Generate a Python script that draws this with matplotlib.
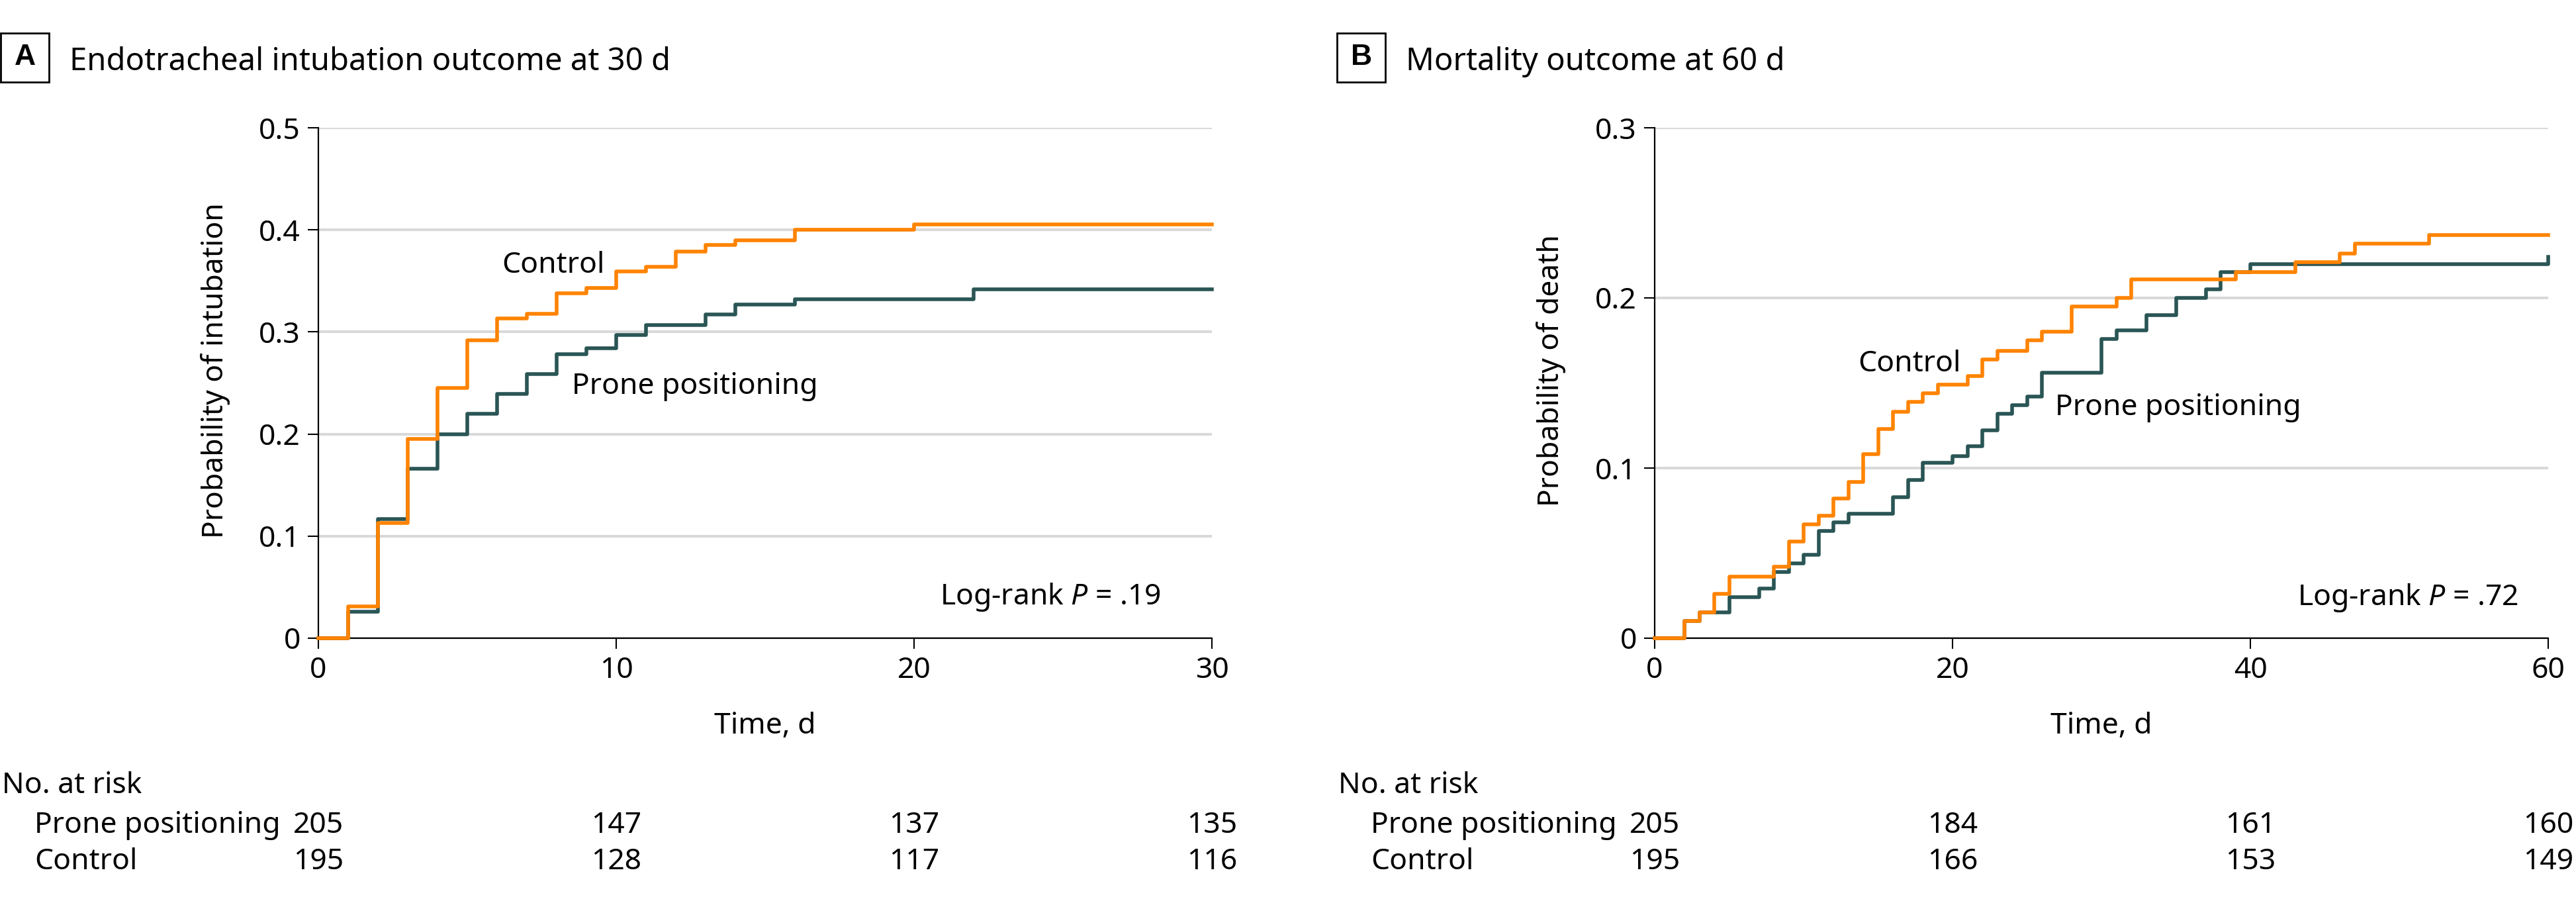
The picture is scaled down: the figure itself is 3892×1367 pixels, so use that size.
import matplotlib
matplotlib.use("Agg")
import matplotlib.pyplot as plt
from matplotlib.patches import Rectangle
from matplotlib import transforms

plt.rcParams['font.family'] = ['Noto Sans', 'DejaVu Sans']
plt.rcParams['mathtext.fontset'] = 'custom'
plt.rcParams['mathtext.rm'] = 'Noto Sans'
plt.rcParams['mathtext.it'] = 'Noto Sans:italic'

# Panel A - intubation at 30 d
a_prone_t = [0, 1, 2, 3, 4, 5, 6, 7, 8, 9, 10, 11, 13, 14, 16, 22, 30]
a_prone_p = [0, 0.026, 0.117, 0.166, 0.200, 0.220, 0.239, 0.259, 0.278, 0.284,
             0.297, 0.307, 0.317, 0.327, 0.332, 0.342, 0.342]
a_ctrl_t = [0, 1, 2, 3, 4, 5, 6, 7, 8, 9, 10, 11, 12, 13, 14, 16, 20, 30]
a_ctrl_p = [0, 0.031, 0.113, 0.195, 0.245, 0.292, 0.313, 0.318, 0.338, 0.343,
            0.359, 0.364, 0.379, 0.385, 0.390, 0.400, 0.405, 0.405]
a_xticks = [0, 10, 20, 30]
a_yticks = [0, 0.1, 0.2, 0.3, 0.4, 0.5]
a_ylabels = ['0', '0.1', '0.2', '0.3', '0.4', '0.5']
a_risk_prone = [205, 147, 137, 135]
a_risk_ctrl = [195, 128, 117, 116]

# Panel B - mortality at 60 d
b_prone_t = [0, 2, 3, 5, 7, 8, 9, 10, 11, 12, 13, 16, 17, 18, 20, 21, 22, 23,
             24, 25, 26, 30, 31, 33, 35, 37, 38, 40, 60]
b_prone_p = [0, 0.010, 0.015, 0.024, 0.029, 0.039, 0.044, 0.049, 0.063, 0.068,
             0.073, 0.083, 0.093, 0.103, 0.107, 0.113, 0.122, 0.132, 0.137,
             0.142, 0.156, 0.176, 0.181, 0.190, 0.200, 0.205, 0.215, 0.220, 0.224]
b_ctrl_t = [0, 2, 3, 4, 5, 8, 9, 10, 11, 12, 13, 14, 15, 16, 17, 18, 19, 21, 22,
            23, 25, 26, 28, 31, 32, 39, 43, 46, 47, 52, 60]
b_ctrl_p = [0, 0.010, 0.015, 0.026, 0.036, 0.042, 0.057, 0.067, 0.072, 0.082,
            0.092, 0.108, 0.123, 0.133, 0.139, 0.144, 0.149, 0.154, 0.164, 0.169,
            0.175, 0.180, 0.195, 0.200, 0.211, 0.215, 0.221, 0.226, 0.232, 0.237,
            0.237]
b_xticks = [0, 20, 40, 60]
b_yticks = [0, 0.1, 0.2, 0.3]
b_ylabels = ['0', '0.1', '0.2', '0.3']
b_risk_prone = [205, 184, 161, 160]
b_risk_ctrl = [195, 166, 153, 149]

ORANGE = '#FF8300'
TEAL = '#2A5555'
FS = 32

W, H = 3892, 1367
fig = plt.figure(figsize=(W / 100, H / 100), dpi=100)


def fx(px):
    return px / W


def fy(px):
    return (H - px) / H


def panel(left_px, letter, title, xticks, yticks, ylabels, ylabel,
          prone_t, prone_p, ctrl_t, ctrl_p, risk_prone, risk_ctrl,
          ctrl_lab, prone_lab, pval):
    ax = fig.add_axes([fx(left_px), fy(964), 1350 / W, 771 / H])
    ax.step(prone_t, prone_p, where='post', color=TEAL, lw=4, clip_on=False, zorder=3)
    ax.step(ctrl_t, ctrl_p, where='post', color=ORANGE, lw=4, clip_on=False, zorder=4)
    ax.set_xlim(xticks[0], xticks[-1])
    ax.set_ylim(yticks[0], yticks[-1])
    ax.set_xticks(xticks)
    ax.set_yticks(yticks)
    ax.set_yticklabels(ylabels)
    ax.yaxis.grid(True, color='#D9D9D9', lw=2.9)
    ax.set_axisbelow(True)
    for s in ['top', 'right']:
        ax.spines[s].set_visible(False)
    for s in ['left', 'bottom']:
        ax.spines[s].set_linewidth(1.6)
    ax.tick_params(length=11.5, width=1.5, labelsize=FS, pad=8)

    ax.text(ctrl_lab[0], ctrl_lab[1], 'Control', fontsize=FS, va='baseline')
    ax.text(prone_lab[0], prone_lab[1], 'Prone positioning', fontsize=FS, va='baseline')
    ax.text(pval[0], pval[1], 'Log-rank $\\mathit{P}$ = ' + pval[2], fontsize=FS,
            ha='right', va='baseline')

    # title with boxed letter
    box_x = left_px - 480
    fig.add_artist(Rectangle((fx(box_x), fy(124)), 73 / W, 74 / H, transform=fig.transFigure,
                             fill=False, ec='black', lw=2))
    fig.text(fx(box_x + 37), fy(87), letter, fontsize=32, fontweight='bold',
             family=['Liberation Sans Narrow', 'Liberation Sans', 'DejaVu Sans'],
             ha='center', va='center')
    fig.text(fx(box_x + 104), fy(106), title, fontsize=34, va='baseline')

    fig.text(fx(left_px - 156), fy(560), ylabel, fontsize=FS, rotation=90,
             ha='center', va='center')
    trans = transforms.blended_transform_factory(ax.transAxes, fig.transFigure)
    ax.text(0.5, fy(1097), 'Time, d', fontsize=FS, ha='center', va='center', transform=trans)

    # number at risk table
    fig.text(fx(left_px - 478), fy(1198), 'No. at risk', fontsize=FS, va='baseline')
    fig.text(fx(left_px - 429), fy(1258), 'Prone positioning', fontsize=FS, va='baseline')
    fig.text(fx(left_px - 429), fy(1313), 'Control', fontsize=FS, va='baseline')
    trans2 = transforms.blended_transform_factory(ax.transData, fig.transFigure)
    for x, n1, n2 in zip(xticks, risk_prone, risk_ctrl):
        ax.text(x, fy(1258), str(n1), fontsize=FS, ha='center', va='baseline', transform=trans2)
        ax.text(x, fy(1313), str(n2), fontsize=FS, ha='center', va='baseline', transform=trans2)
    return ax


panel(481, 'A', 'Endotracheal intubation outcome at 30 d', a_xticks, a_yticks, a_ylabels,
      'Probability of intubation', a_prone_t, a_prone_p, a_ctrl_t, a_ctrl_p,
      a_risk_prone, a_risk_ctrl, (6.16, 0.358), (8.5, 0.239), (28.3, 0.033, '.19'))
panel(2500, 'B', 'Mortality outcome at 60 d', b_xticks, b_yticks, b_ylabels,
      'Probability of death', b_prone_t, b_prone_p, b_ctrl_t, b_ctrl_p,
      b_risk_prone, b_risk_ctrl, (13.65, 0.157), (26.9, 0.131), (58.0, 0.0195, '.72'))

fig.savefig('out.png', dpi=100)
